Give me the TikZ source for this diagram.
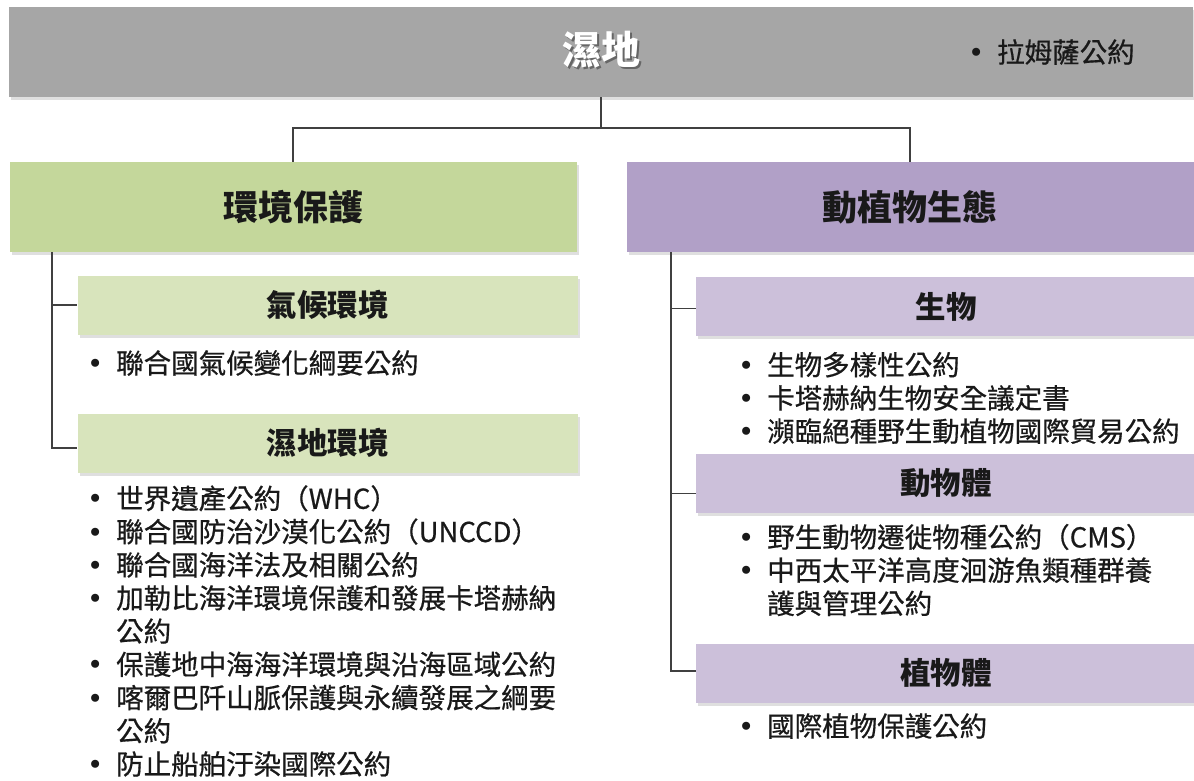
\documentclass[tikz,border=0pt]{standalone}
\usepackage{fontspec}
\setmainfont{Noto Sans CJK TC}
\newfontfamily\itemfont[FakeBold=0.6]{Noto Sans CJK TC}
\newfontfamily\bulletfont{DejaVu Sans}
\usetikzlibrary{shadows}

\begin{document}
\begin{tikzpicture}[x=1pt,y=-1pt]
  % Local definitions
  \def\itm{\makebox[25pt][l]{\hspace*{-4pt}{\bulletfont •}}}
  \def\gap{\hspace*{25pt}}

  % Colors
  \definecolor{topcolor}{HTML}{A6A6A6}
  \definecolor{envcolor}{HTML}{C4D79B}
  \definecolor{envsubcolor}{HTML}{D8E4BC}
  \definecolor{biocolor}{HTML}{B1A0C7}
  \definecolor{biosubcolor}{HTML}{CCC0DA}
  \colorlet{linecolor}{black!75}
  \colorlet{textcolor}{black!90}

  % Styles
  \tikzstyle{box shadow}=[drop shadow={shadow xshift=2pt,shadow yshift=-3pt,opacity=0.25}]
  \tikzstyle{top box}=[rectangle,inner sep=0pt,fill=topcolor,box shadow,
    minimum width=1184pt,minimum height=90pt]
  \tikzstyle{main box}=[rectangle,inner sep=0pt,box shadow,text=textcolor,
    minimum width=567pt,minimum height=90pt,font=\bfseries\fontsize{35}{40}\selectfont]
  \tikzstyle{sub box}=[rectangle,inner sep=0pt,box shadow,text=textcolor,
    minimum width=500pt,minimum height=59pt,font=\bfseries\fontsize{30.5}{36}\selectfont]
  \tikzstyle{item text}=[anchor=west,inner sep=0pt,align=left,text=textcolor,
    font=\itemfont\fontsize{27.5}{33.2}\selectfont]
  \tikzstyle{connector}=[draw=linecolor,line width=1.2pt]

  % The graphic
  \path[use as bounding box] (0,0) rectangle (1194,781);
  \clip (0,0) rectangle (1194,781);
  \fill[white] (0,0) rectangle (1194,781);

  \node[top box] (wetland) at (601,52) {};
  \node[text=black!60,font=\bfseries\fontsize{39}{44}\selectfont] (wetshadow) at (603,52) {濕地};
  \node[text=white,font=\bfseries\fontsize{39}{44}\selectfont] (wettitle) at (601,50) {濕地};
  \node[item text] (ramsar) at (972,52) {\itm 拉姆薩公約};

  \node[main box,fill=envcolor] (env) at (293,207) {環境保護};
  \node[main box,fill=biocolor] (bio) at (910,207) {動植物生態};

  \coordinate (split) at (601,128);
  \draw[connector] (wetland.south) -- (split);
  \draw[connector] (split) -| (env.north);
  \draw[connector] (split) -| (bio.north);

  % left branch
  \node[sub box,fill=envsubcolor] (climate) at (327.5,305) {氣候環境};
  \node[sub box,fill=envsubcolor] (wetenv) at (327.5,443) {濕地環境};
  \node[item text] (climatelist) at (91,363) {\itm 聯合國氣候變化綱要公約};
  \node[item text] (wetlist) at (91,631) {\itm 世界遺產公約（WHC）\\
    \itm 聯合國防治沙漠化公約（UNCCD）\\
    \itm 聯合國海洋法及相關公約\\
    \itm 加勒比海洋環境保護和發展卡塔赫納\\
    \gap 公約\\
    \itm 保護地中海海洋環境與沿海區域公約\\
    \itm 喀爾巴阡山脈保護與永續發展之綱要\\
    \gap 公約\\
    \itm 防止船舶汙染國際公約};

  \coordinate (envroot) at (52,252);
  \draw[connector] (envroot) |- (climate.west);
  \draw[connector] (envroot) |- ([yshift=-5pt]wetenv.west);

  % right branch
  \node[sub box,fill=biosubcolor] (life) at (946,306.5) {生物};
  \node[sub box,fill=biosubcolor] (animal) at (946,483.5) {動物體};
  \node[sub box,fill=biosubcolor] (plant) at (946,673) {植物體};
  \node[item text] (lifelist) at (742,398) {\itm 生物多樣性公約\\
    \itm 卡塔赫納生物安全議定書\\
    \itm 瀕臨絕種野生動植物國際貿易公約};
  \node[item text] (animallist) at (742,570) {\itm 野生動物遷徙物種公約（CMS）\\
    \itm 中西太平洋高度洄游魚類種群養\\
    \gap 護與管理公約};
  \node[item text] (plantlist) at (742,726) {\itm 國際植物保護公約};

  \coordinate (bioroot) at (671,252);
  \draw[connector] (bioroot) |- ([yshift=-2pt]life.west);
  \draw[connector] (bioroot) |- ([yshift=-10pt]animal.west);
  \draw[connector] (bioroot) |- ([yshift=2pt]plant.west);

\end{tikzpicture}
\end{document}
